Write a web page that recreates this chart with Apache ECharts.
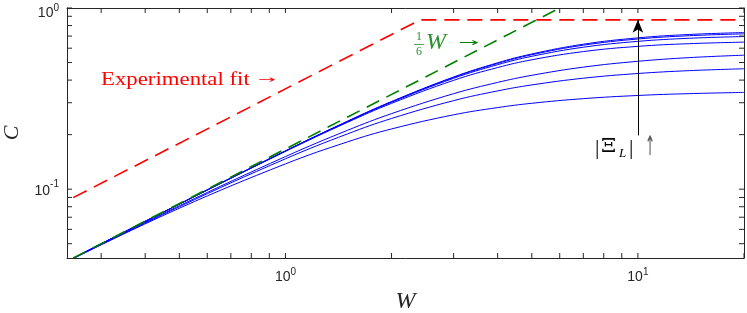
<!DOCTYPE html>
<html><head><meta charset="utf-8">
<script src="https://cdn.jsdelivr.net/npm/echarts@6/dist/echarts.min.js"></script>
<style>html,body{margin:0;padding:0;background:#fff}#c{width:747px;height:313px}</style>
</head><body><div id="c"></div>
<script>
// ---- data ----
const W = [0.25, 0.5, 1, 1.5, 2, 3, 4, 5, 7, 10, 14, 20];
const curve1 = [0.0416, 0.0828, 0.1627, 0.2372, 0.3046, 0.4161, 0.4984, 0.5576, 0.6311, 0.6842, 0.7143, 0.732];
const curve2 = [0.0416, 0.0828, 0.1626, 0.2368, 0.3037, 0.4138, 0.4945, 0.5522, 0.6233, 0.6744, 0.7031, 0.720];
const curve3 = [0.0416, 0.0828, 0.1623, 0.2359, 0.3019, 0.4091, 0.4865, 0.5412, 0.6076, 0.6545, 0.6807, 0.696];
const curve4 = [0.0416, 0.0827, 0.1616, 0.2338, 0.2976, 0.3987, 0.4693, 0.5178, 0.5748, 0.6142, 0.6356, 0.648];
const curve5 = [0.0415, 0.0810, 0.1513, 0.2113, 0.2612, 0.3366, 0.3884, 0.4251, 0.4716, 0.508, 0.5323, 0.549];
const curve6 = [0.0415, 0.0800, 0.1471, 0.2019, 0.2456, 0.3081, 0.3487, 0.3762, 0.4097, 0.435, 0.4511, 0.462];
const curve7 = [0.0415, 0.0785, 0.1379, 0.1824, 0.2150, 0.2573, 0.2821, 0.2979, 0.316, 0.329, 0.3368, 0.342];
const blueCurves = [curve1, curve2, curve3, curve4, curve5, curve6, curve7];

const greenW = [0.25, 6];
const greenC = [0.041667, 1];
const redW = [0.25, 2.41, 20];
const redC = [0.0898, 0.86, 0.86];
const arrowW = [10, 10];
const arrowC = [0.198, 0.862];

const xLabelValues = [1, 10];
const xTickValues = [0.3, 0.4, 0.5, 0.6, 0.7, 0.8, 0.9, 1, 2, 3, 4, 5, 6, 7, 8, 9, 10, 20];
const yLabelValues = [0.1, 1];
const yTickValues = [0.05, 0.06, 0.07, 0.08, 0.09, 0.1, 0.2, 0.3, 0.4, 0.5, 0.6, 0.7, 0.8, 0.9, 1];

const X_MIN = 0.24, X_MAX = 20, Y_MIN = 0.0417, Y_MAX = 1;

(function () {
const AX = '#262626';
const LABEL_FONT = 'Liberation Sans, Arial, sans-serif';
const SERIF = 'Liberation Serif, serif';
const GRID = {left: 67, right: 3, top: 8, bottom: 55};
const PLOT_W = 747 - GRID.left - GRID.right, PLOT_H = 313 - GRID.top - GRID.bottom;
const TL = 5; // tick length in px
function pairs(xs, ys) { return xs.map((x, i) => [x, ys[i]]); }

const xFmt = v => '{b|10}{s|' + Math.round(Math.log10(v)) + '}';
const yFmt = v => {
  const e = Math.round(Math.log10(v));
  return e === 0 ? '{bt|10}{st|' + e + '}' : '{b|10}{s|' + e + '}';
};
const richX = {
  b: {fontSize: 14, fontFamily: LABEL_FONT, color: AX},
  s: {fontSize: 10, fontFamily: LABEL_FONT, color: AX, padding: [0, 0, 11, 0]}
};
const richY = {
  b: {fontSize: 14, fontFamily: LABEL_FONT, color: AX, padding: [3, 0, 0, 0]},
  s: {fontSize: 10, fontFamily: LABEL_FONT, color: AX, padding: [0, 0, 10, 0]},
  bt: {fontSize: 14, fontFamily: LABEL_FONT, color: AX, padding: [10, 0, 0, 0]},
  st: {fontSize: 10, fontFamily: LABEL_FONT, color: AX}
};

function xAxisCfg(pos, main) {
  return {
    type: 'log', logBase: 10, min: X_MIN, max: X_MAX, position: pos,
    axisLine: {show: true, onZero: false, lineStyle: {color: AX, width: 1}},
    axisTick: {show: false}, minorTick: {show: false}, splitLine: {show: false},
    axisLabel: main ? {show: true, fontSize: 14, customValues: xLabelValues, formatter: xFmt, rich: richX, margin: 9} : {show: false},
    name: main ? 'W' : '',
    nameLocation: 'middle', nameGap: 32,
    nameTextStyle: {fontFamily: SERIF, fontStyle: 'italic', fontSize: 24, color: AX}
  };
}
function yAxisCfg(pos, main) {
  return {
    type: 'log', logBase: 10, min: Y_MIN, max: Y_MAX, position: pos,
    axisLine: {show: true, onZero: false, lineStyle: {color: AX, width: 1}},
    axisTick: {show: false}, minorTick: {show: false}, splitLine: {show: false},
    axisLabel: main ? {show: true, fontSize: 14, customValues: yLabelValues, formatter: yFmt, rich: richY, margin: 8} : {show: false},
    name: main ? 'C' : '',
    nameLocation: 'middle', nameGap: 44, nameRotate: 90,
    nameTextStyle: {fontFamily: SERIF, fontStyle: 'italic', fontSize: 22, color: AX}
  };
}

const series = [];
blueCurves.forEach(c => series.push({
  type: 'line', data: pairs(W, c), showSymbol: false, symbol: 'none', smooth: 0.4,
  lineStyle: {color: '#0000ff', width: 1}, z: 3, animation: false
}));
series.push({
  type: 'line', data: pairs(greenW, greenC), symbol: 'none',
  lineStyle: {color: '#008000', width: 1.6, type: [14, 8]}, z: 4, animation: false
});
series.push({
  type: 'line', data: pairs(redW, redC), symbol: 'none',
  lineStyle: {color: '#ff0000', width: 1.6, type: [15, 8]}, z: 4, animation: false
});
series.push({
  type: 'line', data: [], symbol: 'none', z: 5, animation: false,
  markLine: {
    silent: true, animation: false, symbol: ['none', 'arrow'], symbolSize: [8, 13],
    label: {show: false},
    lineStyle: {color: '#000', width: 1, type: 'solid'},
    itemStyle: {color: '#000'},
    data: [[{coord: [arrowW[0], arrowC[0]]}, {coord: [arrowW[1], arrowC[1]]}]]
  }
});
// inside tick marks on all four sides, each a short two-point line series in data space
const kX = Math.pow(X_MAX / X_MIN, TL / PLOT_W);
const kY = Math.pow(Y_MAX / Y_MIN, TL / PLOT_H);
function tickSeries(a, b) {
  return {
    type: 'line', data: [a, b], symbol: 'none', showSymbol: false, clip: false, silent: true,
    lineStyle: {color: AX, width: 1, type: 'solid'}, z: 6, animation: false,
    emphasis: {disabled: true}, tooltip: {show: false}
  };
}
xTickValues.forEach(v => {
  series.push(tickSeries([v, Y_MIN], [v, Y_MIN * kY]));
  series.push(tickSeries([v, Y_MAX], [v, Y_MAX / kY]));
});
yTickValues.forEach(v => {
  series.push(tickSeries([X_MIN, v], [X_MIN * kX, v]));
  series.push(tickSeries([X_MAX, v], [X_MAX / kX, v]));
});

const ARROWF = 'DejaVu Sans, sans-serif';
const GREEN_T = '#2a922a';
const annotations = [
  {type: 'text', x: 101, y: 80, scaleX: 1.2, style: {text: 'Experimental fit', fill: '#ff0000', font: '19px ' + SERIF, verticalAlign: 'middle'}},
  {type: 'text', x: 258, y: 80, scaleX: 1.25, scaleY: 0.6, style: {text: '\u2192', fill: '#ff0000', font: '17px ' + ARROWF, verticalAlign: 'middle'}},
  {type: 'text', x: 419, y: 37, style: {text: '1', fill: GREEN_T, font: '12px ' + SERIF, align: 'center', verticalAlign: 'middle'}},
  {type: 'line', shape: {x1: 414, y1: 44.5, x2: 424, y2: 44.5}, style: {stroke: GREEN_T, lineWidth: 0.8}},
  {type: 'text', x: 419, y: 52, style: {text: '6', fill: GREEN_T, font: '12px ' + SERIF, align: 'center', verticalAlign: 'middle'}},
  {type: 'text', x: 426, y: 43, style: {text: 'W', fill: GREEN_T, font: 'italic 24px ' + SERIF, verticalAlign: 'middle'}},
  {type: 'text', x: 458, y: 43, scaleX: 1.45, scaleY: 0.65, style: {text: '\u2192', fill: '#008000', font: '17px ' + ARROWF, verticalAlign: 'middle'}},
  {type: 'text', x: 595, y: 148, style: {text: '|', fill: '#000', font: '22px ' + SERIF, verticalAlign: 'middle'}},
  {type: 'text', x: 601, y: 147, scaleX: 1.2, style: {text: '\u039E', fill: '#000', font: '18px DejaVu Serif, serif', verticalAlign: 'middle'}},
  {type: 'text', x: 619, y: 154, style: {text: 'L', fill: '#000', font: 'italic 13px ' + SERIF, verticalAlign: 'middle'}},
  {type: 'text', x: 629, y: 148, style: {text: '|', fill: '#000', font: '22px ' + SERIF, verticalAlign: 'middle'}},
  {type: 'text', x: 645, y: 148, scaleX: 0.45, scaleY: 1.0, style: {text: '\u2191', fill: '#555', font: '27px ' + ARROWF, verticalAlign: 'middle'}}
];

const chart = echarts.init(document.getElementById('c'), null, {renderer: 'canvas'});
chart.setOption({
  animation: false,
  backgroundColor: '#fff',
  grid: [Object.assign({outerBoundsMode: 'none', containLabel: false}, GRID)],
  xAxis: [xAxisCfg('bottom', true), xAxisCfg('top', false)],
  yAxis: [yAxisCfg('left', true), yAxisCfg('right', false)],
  series: series,
  graphic: annotations
});
})();
</script></body></html>
